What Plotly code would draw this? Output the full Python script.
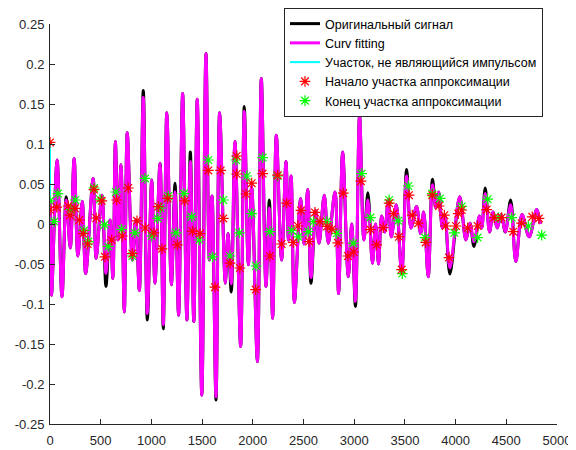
import plotly.graph_objects as go

# signal extrema (x, original y, fitted y)
sig_x = [3, 15, 70, 118, 160, 200, 238, 275, 318, 352, 425, 455, 512, 552, 592, 620, 645, 672, 700, 733,
         762, 812, 845, 881, 920, 960, 1003, 1035, 1085, 1117, 1152, 1197, 1233, 1268, 1308, 1350, 1384,
         1418, 1452, 1497, 1538, 1572, 1598, 1637, 1673, 1729, 1755, 1788, 1824, 1880, 1916, 1956, 1989,
         2045, 2084, 2130, 2163, 2196, 2232, 2284, 2327, 2352, 2378, 2410, 2472, 2505, 2541, 2574, 2620,
         2653, 2705, 2745, 2810, 2846, 2886, 2942, 2975, 3012, 3053, 3096, 3135, 3180, 3211, 3240, 3270,
         3300, 3336, 3366, 3415, 3468, 3517, 3560, 3615, 3655, 3685, 3730, 3772, 3805, 3833, 3870, 3895,
         3944, 4040, 4102, 4142, 4181, 4235, 4258, 4292, 4335, 4370, 4410, 4450, 4490, 4543, 4594, 4655,
         4725, 4800, 4835]
orig_y = [0.03, -0.089, 0.08, -0.091, 0.034, -0.03, 0.082, -0.04, 0.028, -0.062, 0.057, -0.043, 0.036,
          -0.078, 0.005, -0.068, 0.103, -0.02, 0.074, -0.11, 0.114, -0.045, 0.005, -0.083, 0.167, -0.12,
          0.055, -0.074, 0.076, -0.131, 0.139, -0.076, 0.051, -0.114, 0.163, -0.12, 0.09, -0.122, 0.156,
          -0.214, 0.213, -0.045, 0.035, -0.22, 0.139, -0.074, -0.012, -0.085, 0.103, -0.153, 0.147, -0.051,
          0.047, -0.172, 0.182, -0.078, 0.03, -0.118, 0.111, -0.045, 0.078, -0.02, 0.06, -0.098, 0.032,
          -0.025, 0.043, -0.074, 0.017, -0.024, 0.036, -0.024, 0.04, -0.087, 0.09, -0.066, 0.0, -0.103,
          0.136, -0.02, 0.039, -0.049, 0.0, -0.05, 0.01, -0.01, 0.03, -0.016, 0.024, -0.062, 0.068, -0.005,
          0.022, -0.012, 0.015, -0.066, 0.056, 0.02, 0.04, -0.005, 0.01, -0.0625, 0.034, -0.02, 0.001,
          -0.028, 0.01, -0.005, 0.045, -0.01, 0.015, -0.005, 0.012, -0.01, 0.03, -0.047, 0.012, -0.016,
          0.018, 0.0]
fit_y = [0.03, -0.089, 0.08, -0.091, 0.03, -0.03, 0.082, -0.04, 0.028, -0.062, 0.057, -0.043, 0.036,
         -0.062, 0.005, -0.068, 0.103, -0.02, 0.074, -0.11, 0.114, -0.045, 0.005, -0.083, 0.158, -0.112,
         0.055, -0.074, 0.076, -0.126, 0.139, -0.076, 0.04, -0.114, 0.163, -0.12, 0.078, -0.122, 0.156,
         -0.214, 0.213, -0.045, 0.035, -0.216, 0.139, -0.074, -0.012, -0.075, 0.103, -0.153, 0.141, -0.051,
         0.047, -0.172, 0.182, -0.078, 0.02, -0.118, 0.111, -0.045, 0.078, -0.02, 0.06, -0.098, 0.032,
         -0.025, 0.043, -0.067, 0.017, -0.024, 0.036, -0.024, 0.04, -0.087, 0.09, -0.066, 0.0, -0.097,
         0.136, -0.02, 0.03, -0.049, 0.0, -0.05, 0.01, -0.01, 0.03, -0.016, 0.024, -0.062, 0.06, -0.005,
         0.022, -0.012, 0.015, -0.066, 0.049, 0.02, 0.04, -0.005, 0.01, -0.055, 0.034, -0.02, 0.001,
         -0.022, 0.01, -0.005, 0.038, -0.01, 0.015, -0.005, 0.012, -0.01, 0.024, -0.047, 0.012, -0.016,
         0.018, 0.0]

# non-impulse segment
cyan_x = [0, 0]
cyan_y = [0.102, 0.03]

# approximation start points
start_x = [0, 0, 66, 180, 197, 246, 289, 329, 371, 434, 456, 510, 542, 608, 657, 712, 772, 812, 858, 940,
           1025, 1068, 1104, 1160, 1255, 1328, 1405, 1479, 1561, 1627, 1683, 1709, 1775, 1841, 1841, 1873,
           1933, 1989, 2028, 2097, 2169, 2245, 2284, 2334, 2399, 2445, 2475, 2555, 2613, 2662, 2733, 2780,
           2840, 2892, 2938, 2995, 3066, 3160, 3221, 3286, 3345, 3389, 3441, 3468, 3540, 3573, 3632, 3705,
           3770, 3836, 3889, 3902, 3935, 4004, 4027, 4060, 4119, 4217, 4306, 4381, 4454, 4568, 4651, 4756,
           4822]
start_y = [0.102, 0.0175, 0.021, 0.0225, 0.011, 0.0196, 0.005, -0.012, -0.025, 0.043, 0.0075, 0.029,
           -0.041, -0.02, 0.03, -0.015, 0.045, -0.037, 0.004, -0.005, -0.011, 0.0216, -0.031, 0.032, -0.026,
           0.029, -0.009, -0.012, 0.067, -0.079, 0.067, 0.007, -0.049, 0.085, 0.0625, -0.055, 0.0375, 0.051,
           -0.082, 0.063, -0.04, 0.061, -0.025, 0.026, -0.023, -0.0025, 0.017, -0.022, 0.0145, 0.003, -0.003,
           -0.0065, -0.0235, 0.0385, -0.04, -0.035, 0.0535, -0.007, -0.026, -0.0046, 0.026, 0.013, -0.016,
           -0.057, 0.036, 0.011, 0.001, -0.023, 0.036, 0.0225, 0.011, -0.0025, -0.042, -0.0025, 0.013, 0.0175,
           -0.005, -0.0025, 0.018, 0.008, 0.008, -0.0096, 0.001, 0.009, 0.007]

# approximation end points
end_x = [0, 42, 78, 205, 250, 335, 378, 434, 493, 538, 575, 649, 707, 812, 838, 937, 1003, 1062, 1091,
         1167, 1242, 1321, 1397, 1472, 1561, 1604, 1709, 1775, 1834, 1867, 1940, 1989, 2032, 2097, 2169,
         2245, 2383, 2448, 2547, 2600, 2728, 2827, 2991, 3073, 3160, 3345, 3434, 3474, 3534, 3698, 3770,
         3846, 3988, 4060, 4217, 4316, 4421, 4553, 4717, 4849]
end_y = [0.029, 0.003, 0.038, 0.018, 0.03, -0.008, -0.022, 0.045, 0.031, -0.001, -0.028, 0.04, -0.0066,
         -0.04, -0.011, 0.057, -0.015, 0.007, 0.02, 0.035, -0.011, 0.038, 0.009, -0.02, 0.08, -0.041, 0.03,
         -0.04, 0.08, -0.011, 0.06, 0.013, -0.0525, 0.083, -0.0096, 0.06, -0.008, -0.016, -0.0096, 0.003,
         0.003, -0.0116, -0.024, 0.063, 0.008, 0.03, 0.004, -0.062, 0.0475, -0.017, 0.038, 0.032, -0.011,
         0.022, -0.017, 0.031, 0.008, 0.008, -0.0025, -0.014]

y_ticks = [-0.25, -0.2, -0.15, -0.1, -0.05, 0, 0.05, 0.1, 0.15, 0.2, 0.25]
y_labels = ['-0.25', '-0.2', '-0.15', '-0.1', '-0.05', '0', '0.05', '0.1', '0.15', '0.2', '0.25']

fig = go.Figure()
fig.add_trace(go.Scatter(x=sig_x, y=orig_y, mode='lines', name='Оригинальный сигнал',
                         line=dict(color='black', width=3, shape='spline', smoothing=1.0), legendrank=1))
fig.add_trace(go.Scatter(x=sig_x, y=fit_y, mode='lines', name='Curv fitting',
                         line=dict(color='#FF00FF', width=3, shape='spline', smoothing=1.0), legendrank=2))
fig.add_trace(go.Scatter(x=cyan_x, y=cyan_y, mode='lines', name='Участок, не являющийся импульсом',
                         line=dict(color='#00FFFF', width=2), legendrank=3))
fig.add_trace(go.Scatter(x=end_x, y=end_y, mode='markers', name='Конец участка аппроксимации',
                         marker=dict(symbol='asterisk-open', size=9, color='#00FF00',
                                     line=dict(color='#00FF00', width=1.2)),
                         legendrank=5))
fig.add_trace(go.Scatter(x=start_x, y=start_y, mode='markers', name='Начало участка аппроксимации',
                         marker=dict(symbol='asterisk-open', size=9, color='#FF0000',
                                     line=dict(color='#FF0000', width=1.2)),
                         legendrank=4))

axis_font = dict(family='Liberation Sans, Arial, sans-serif', size=13, color='#262626')
# page body adds an 8px offset, so margins are shifted to compensate
fig.update_layout(
    width=576, height=450,
    margin=dict(l=42, r=27, t=16, b=34, autoexpand=False),
    plot_bgcolor='white', paper_bgcolor='white',
    font=axis_font,
    legend=dict(x=0.4615, y=1.04, xanchor='left', yanchor='top',
                bgcolor='white', bordercolor='#262626', borderwidth=1,
                font=dict(family='Liberation Sans, Arial, sans-serif', size=12.5, color='black'),
                tracegroupgap=0, itemwidth=30),
)
fig.update_xaxes(range=[0, 5000], tickmode='linear', tick0=0, dtick=500, ticks='inside', ticklen=5,
                 tickcolor='#262626', showline=True, linecolor='#262626', linewidth=1,
                 showgrid=False, zeroline=False, tickfont=axis_font, ticklabelstandoff=4)
fig.update_yaxes(range=[-0.25, 0.25], tickvals=y_ticks, ticktext=y_labels, ticks='inside', ticklen=5,
                 tickcolor='#262626', showline=True, linecolor='#262626', linewidth=1,
                 showgrid=False, zeroline=False, tickfont=axis_font, ticklabelstandoff=2)

fig.write_html("out.html")
